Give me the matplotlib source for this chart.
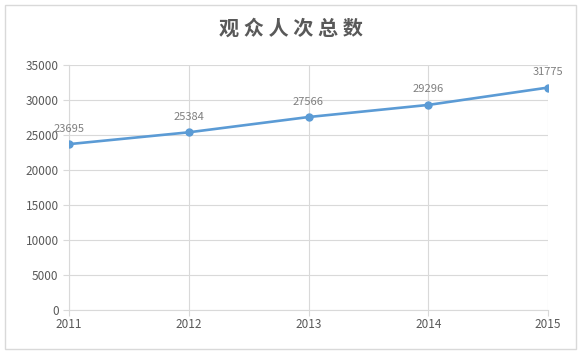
import matplotlib.pyplot as plt
from matplotlib.patches import Rectangle

plt.rcParams['font.family'] = ['Noto Sans CJK SC', 'DejaVu Sans']

years = ['2011', '2012', '2013', '2014', '2015']
visitors = [23695, 25384, 27566, 29296, 31775]
yticks = [0, 5000, 10000, 15000, 20000, 25000, 30000, 35000]

fig = plt.figure(figsize=(5.81, 3.54), dpi=100)
ax = fig.add_axes([69/581, 1-310/354, (548-69)/581, (310-65)/354])

# outer border of the chart
fig.patches.append(Rectangle((5/581, 5/354), 571/581, 344/354, transform=fig.transFigure,
                             fill=False, edgecolor='#d9d9d9', linewidth=1))

x = range(len(years))
ax.plot(x, visitors, color='#5b9bd5', linewidth=1.9, marker='o', markersize=5, zorder=3)
for i, v in enumerate(visitors):
    ax.annotate(str(v), (i, v), textcoords='offset points', xytext=(0, 9),
                ha='center', fontsize=8, color='#7f7f7f')

ax.set_xlim(0, len(years) - 1)
ax.set_ylim(0, 35000)
ax.set_xticks(list(x))
ax.set_xticklabels(years)
ax.set_yticks(yticks)
ax.grid(True, color='#d9d9d9', linewidth=0.8)
ax.set_axisbelow(True)
for s in ['top', 'right']:
    ax.spines[s].set_visible(False)
ax.spines['left'].set_color('#d9d9d9')
ax.spines['bottom'].set_color('#d9d9d9')
ax.tick_params(axis='both', colors='#d9d9d9', labelcolor='#595959', labelsize=8.5, length=4)
ax.tick_params(axis='x', pad=2)

fig.text(0.5, 1-28/354, '观 众 人 次 总 数', ha='center', va='center', fontsize=14.5,
         fontweight='bold', color='#595959')

fig.savefig('out.png', dpi=100)
